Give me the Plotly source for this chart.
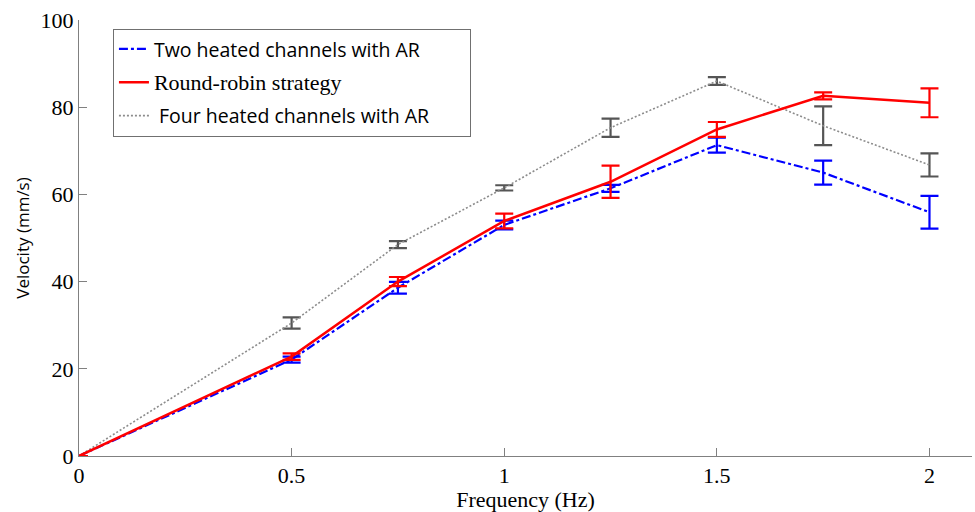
import plotly.graph_objects as go

freq = [0, 0.5, 0.75, 1, 1.25, 1.5, 1.75, 2]

two_name = "Two heated channels with AR"
two_vel = [0, 22.1, 38.6, 53.0, 61.4, 71.3, 65.0, 55.9]
two_err = [None, 0.7, 1.35, 1.0, 0.8, 1.7, 2.75, 3.75]

rr_name = "Round-robin strategy"
rr_vel = [0, 22.8, 40.0, 53.9, 62.9, 74.9, 82.6, 81.0]
rr_err = [None, 0.75, 1.05, 1.7, 3.7, 1.7, 0.8, 3.3]

four_name = "Four heated channels with AR"
four_vel = [0, 30.5, 48.5, 61.5, 75.3, 86.0, 75.75, 66.75]
four_err = [None, 1.3, 0.8, 0.6, 2.1, 0.9, 4.45, 2.65]

x_ticks = [0, 0.5, 1, 1.5, 2]
y_ticks = [0, 20, 40, 60, 80, 100]

SANS = "Open Sans"
SERIF = "Liberation Serif"
PAD = "&nbsp;" * 7

fig = go.Figure()

fig.add_trace(go.Scatter(
    x=freq, y=four_vel, mode="lines",
    name=f'<span style="font-family:{SANS}">&nbsp;{four_name}{PAD}</span>',
    line=dict(color="#8c8c8c", width=1.6, dash="2px,2px"),
    error_y=dict(type="data", array=four_err, visible=True,
                 color="#555555", thickness=2.2, width=9),
    legendrank=3, legendgroup="c",
))
fig.add_trace(go.Scatter(
    x=freq, y=two_vel, mode="lines",
    name=f'<span style="font-family:{SANS}">{two_name}</span>',
    line=dict(color="#0000ff", width=2.2, dash="dashdot"),
    error_y=dict(type="data", array=two_err, visible=True,
                 color="#0000ff", thickness=2.2, width=9),
    legendrank=1, legendgroup="a",
))
fig.add_trace(go.Scatter(
    x=freq, y=rr_vel, mode="lines",
    name=f'<span style="font-family:{SERIF};font-size:22px">{rr_name}</span>',
    line=dict(color="#ff0000", width=2.5),
    error_y=dict(type="data", array=rr_err, visible=True,
                 color="#ff0000", thickness=2.2, width=9),
    legendrank=2, legendgroup="b",
))

axis_common = dict(
    showline=True, linecolor="#808080", linewidth=1,
    ticks="inside", ticklen=8, tickcolor="#808080", tickwidth=1,
    showgrid=False, zeroline=False, mirror=False,
    tickfont=dict(family=SERIF, size=22, color="black"),
)

fig.update_xaxes(
    range=[0, 2.1], tickvals=x_ticks, ticktext=[str(v) for v in x_ticks],
    title=dict(text="Frequency (Hz)", font=dict(family=SERIF, size=22, color="black"), standoff=0),
    **axis_common,
)
fig.update_yaxes(
    range=[0, 100], tickvals=y_ticks,
    title=dict(text="Velocity (mm/s)", font=dict(family=SANS, size=17, color="black"), standoff=6),
    **axis_common,
)

fig.update_layout(
    width=975, height=512,
    margin=dict(l=79, r=3, t=20, b=56),
    paper_bgcolor="white", plot_bgcolor="white",
    showlegend=True,
    legend=dict(
        x=0.038, y=0.98, xanchor="left", yanchor="top",
        bgcolor="white", bordercolor="#707070", borderwidth=1,
        font=dict(family=SANS, size=19.5, color="black"),
        traceorder="grouped", tracegroupgap=5,
    ),
)

fig.write_html("out.html")
